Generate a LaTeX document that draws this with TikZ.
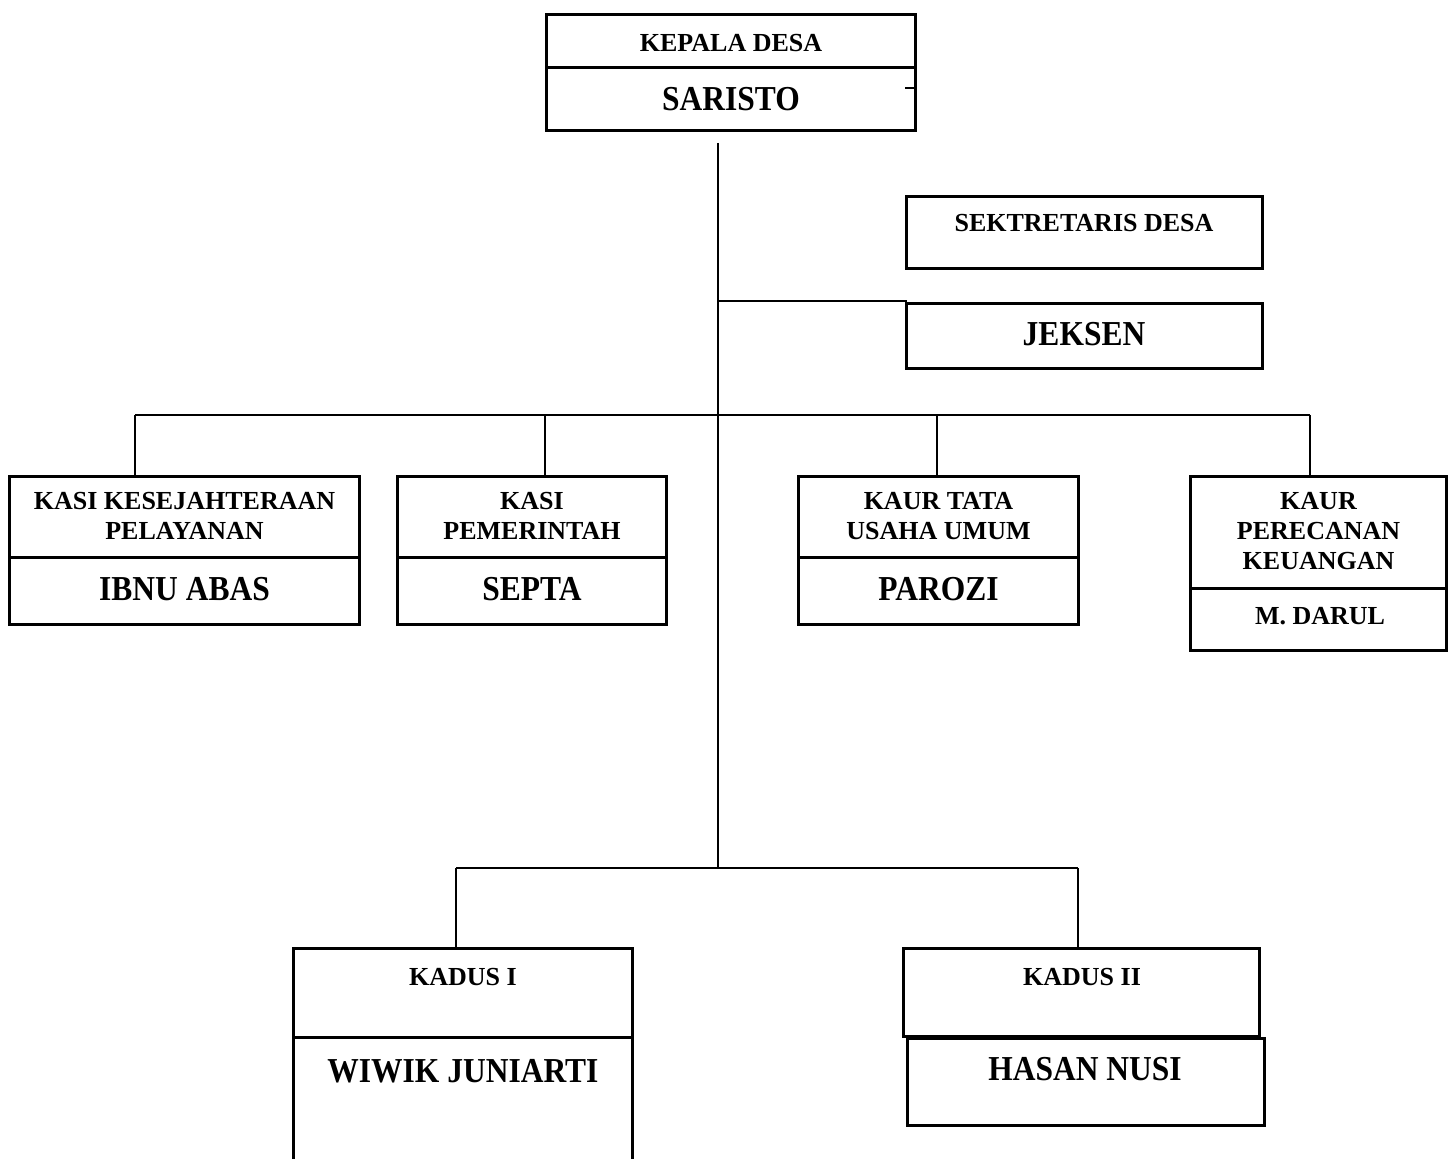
\documentclass[tikz,border=0pt]{standalone}
\usepackage{fontspec}
\setmainfont{Liberation Serif}
\newfontfamily\condfont[FakeStretch=0.9]{Liberation Serif}
\usetikzlibrary{fit}
\tikzset{
  box/.style={draw, line width=1.5pt, inner sep=0pt, outer sep=0pt},
  conn/.style={line width=0.8pt},
  small/.style={font=\fontsize{13}{15.2}\selectfont\bfseries, align=center, inner sep=0pt},
  big/.style={font=\condfont\fontsize{17.5}{19}\selectfont\bfseries, align=center, inner sep=0pt}
}
\newcommand\bx[5]{\node[box, fit={(#2,#3) (#4,#5)}] (#1) {};}
\begin{document}
\begin{tikzpicture}[x=0.5pt,y=-0.5pt]
\useasboundingbox (0,0) rectangle (1454,1159);
\clip (0,0) rectangle (1454,1159);
% boxes
\bx{kepA}{546.5}{14.5}{915.5}{67.5}
\bx{kepB}{546.5}{67.5}{915.5}{130.5}
\bx{sek}{906.5}{196.5}{1262.5}{268.5}
\bx{jek}{906.5}{303.5}{1262.5}{368.5}
\bx{kaA}{9.5}{476.5}{359.5}{557}
\bx{kaB}{9.5}{557}{359.5}{624.5}
\bx{kbA}{397.5}{476.5}{666.5}{557}
\bx{kbB}{397.5}{557}{666.5}{624.5}
\bx{kcA}{798.5}{476.5}{1078.5}{557}
\bx{kcB}{798.5}{557}{1078.5}{624.5}
\bx{kdA}{1190.5}{476.5}{1446.5}{588}
\bx{kdB}{1190.5}{588}{1446.5}{650.5}
\bx{dsaA}{293.5}{948.5}{632.5}{1037}
\bx{dsaB}{293.5}{1037}{632.5}{1180}
\bx{dsbA}{903.5}{948.5}{1259.5}{1036}
\bx{dsbB}{907.5}{1038}{1264.5}{1125.5}
% labels
\node[small] (lkep) at (731,43) {KEPALA DESA};
\node[big] (lsar) at (731,99) {SARISTO};
\node[small] (lsek) at (1084,223) {SEKTRETARIS DESA};
\node[big] (ljek) at (1084,334) {JEKSEN};
\node[small] (lka) at (184.5,516) {KASI KESEJAHTERAAN\\PELAYANAN};
\node[big] (lkaN) at (184.5,589) {IBNU ABAS};
\node[small] (lkb) at (532,516) {KASI\\PEMERINTAH};
\node[big] (lkbN) at (532,589) {SEPTA};
\node[small] (lkc) at (938.5,516) {KAUR TATA\\USAHA UMUM};
\node[big] (lkcN) at (938.5,589) {PAROZI};
\node[small] (lkd) at (1318.5,531) {KAUR\\PERECANAN\\KEUANGAN};
\node[small] (lkdN) at (1320,616) {M. DARUL};
\node[small] (lda) at (463,977) {KADUS I};
\node[big] (ldaN) at (463,1071) {WIWIK JUNIARTI};
\node[small] (ldb) at (1082,977) {KADUS II};
\node[big] (ldbN) at (1085,1069) {HASAN NUSI};
% connectors
\coordinate (t0) at (718,143);
\coordinate (t1) at (718,868);
\draw[conn] (t0) -- (t1);
\coordinate (tick) at (905,88);
\draw[conn] (tick) -- (tick -| kepB.east);
\coordinate (jk) at (718,301);
\draw[conn] (jk) -- (jk -| jek.west);
\coordinate (b1) at (135,415);
\coordinate (b2) at (545,415);
\coordinate (b3) at (937,415);
\coordinate (b4) at (1310,415);
\draw[line width=1pt] (b1) -- (b4);
\draw[conn] (b1) -- (b1 |- kaA.north);
\draw[conn] (b2) -- (b2 |- kbA.north);
\draw[conn] (b3) -- (b3 |- kcA.north);
\draw[conn] (b4) -- (b4 |- kdA.north);
\coordinate (c1) at (456,868);
\coordinate (c2) at (1078,868);
\draw[conn] (c1) -- (c2);
\draw[conn] (c1) -- (c1 |- dsaA.north);
\draw[conn] (c2) -- (c2 |- dsbA.north);
\end{tikzpicture}
\end{document}
